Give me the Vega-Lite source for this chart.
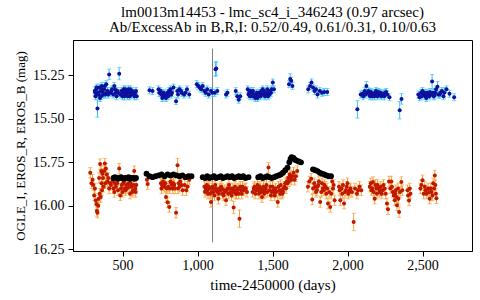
{
  "$schema": "https://vega.github.io/schema/vega-lite/v6.json",
  "width": 399,
  "height": 211,
  "autosize": {"type": "none"},
  "padding": {"left": 73, "top": 40, "right": 8, "bottom": 49},
  "background": "white",
  "title": {
    "text": ["lm0013m14453 - lmc_sc4_i_346243 (0.97 arcsec)", "Ab/ExcessAb in B,R,I: 0.52/0.49, 0.61/0.31, 0.10/0.63"],
    "font": "Liberation Serif",
    "fontSize": 15,
    "fontWeight": "normal",
    "color": "black",
    "lineHeight": 15,
    "offset": 5,
    "frame": "group",
    "anchor": "middle"
  },
  "config": {
    "font": "Liberation Serif",
    "view": {"stroke": "black", "strokeWidth": 1},
    "axis": {
      "labelFont": "Liberation Serif",
      "labelFontSize": 14,
      "labelColor": "black",
      "titleFont": "Liberation Serif",
      "titleFontSize": 13,
      "titleFontWeight": "normal",
      "titleColor": "black",
      "domainColor": "black",
      "tickColor": "black",
      "grid": false,
      "tickSize": 5
    }
  },
  "datasets": {
    "B": [
      {"day":315,"mag":15.34,"err":0.025},{"day":318,"mag":15.35,"err":0.02},{"day":320,"mag":15.37,"err":0.02},{"day":325,"mag":15.33,"err":0.02},{"day":328,"mag":15.32,"err":0.02},{"day":330,"mag":15.36,"err":0.02},{"day":333,"mag":15.44,"err":0.05},{"day":338,"mag":15.35,"err":0.02},{"day":342,"mag":15.36,"err":0.02},{"day":345,"mag":15.32,"err":0.02},{"day":350,"mag":15.38,"err":0.02},{"day":355,"mag":15.34,"err":0.02},{"day":358,"mag":15.37,"err":0.02},{"day":362,"mag":15.31,"err":0.02},{"day":366,"mag":15.33,"err":0.02},{"day":370,"mag":15.35,"err":0.02},{"day":374,"mag":15.36,"err":0.02},{"day":378,"mag":15.33,"err":0.02},{"day":382,"mag":15.31,"err":0.02},{"day":385,"mag":15.36,"err":0.02},{"day":392,"mag":15.3,"err":0.02},{"day":396,"mag":15.35,"err":0.02},{"day":400,"mag":15.34,"err":0.02},{"day":405,"mag":15.36,"err":0.02},{"day":411,"mag":15.244,"err":0.03},{"day":420,"mag":15.35,"err":0.02},{"day":425,"mag":15.34,"err":0.02},{"day":430,"mag":15.33,"err":0.02},{"day":438,"mag":15.36,"err":0.02},{"day":445,"mag":15.31,"err":0.02},{"day":450,"mag":15.33,"err":0.02},{"day":455,"mag":15.35,"err":0.02},{"day":460,"mag":15.37,"err":0.02},{"day":465,"mag":15.34,"err":0.02},{"day":470,"mag":15.35,"err":0.02},{"day":478,"mag":15.24,"err":0.035},{"day":485,"mag":15.36,"err":0.02},{"day":492,"mag":15.34,"err":0.02},{"day":500,"mag":15.37,"err":0.02},{"day":503,"mag":15.35,"err":0.02},{"day":508,"mag":15.33,"err":0.02},{"day":512,"mag":15.37,"err":0.02},{"day":515,"mag":15.35,"err":0.02},{"day":518,"mag":15.33,"err":0.02},{"day":522,"mag":15.36,"err":0.02},{"day":526,"mag":15.35,"err":0.02},{"day":530,"mag":15.34,"err":0.02},{"day":535,"mag":15.37,"err":0.02},{"day":540,"mag":15.33,"err":0.02},{"day":544,"mag":15.35,"err":0.02},{"day":548,"mag":15.37,"err":0.02},{"day":552,"mag":15.33,"err":0.02},{"day":555,"mag":15.35,"err":0.02},{"day":560,"mag":15.36,"err":0.02},{"day":565,"mag":15.34,"err":0.02},{"day":570,"mag":15.35,"err":0.02},{"day":575,"mag":15.36,"err":0.02},{"day":580,"mag":15.37,"err":0.02},{"day":585,"mag":15.35,"err":0.02},{"day":590,"mag":15.34,"err":0.02},{"day":595,"mag":15.37,"err":0.02},
      {"day":680,"mag":15.335,"err":0.02},{"day":700,"mag":15.34,"err":0.02},{"day":740,"mag":15.33,"err":0.02},{"day":745,"mag":15.35,"err":0.02},{"day":750,"mag":15.35,"err":0.02},{"day":755,"mag":15.34,"err":0.02},{"day":760,"mag":15.36,"err":0.02},{"day":765,"mag":15.38,"err":0.02},{"day":770,"mag":15.37,"err":0.02},{"day":775,"mag":15.35,"err":0.02},{"day":780,"mag":15.36,"err":0.02},{"day":785,"mag":15.37,"err":0.02},{"day":790,"mag":15.38,"err":0.02},{"day":795,"mag":15.36,"err":0.02},{"day":800,"mag":15.35,"err":0.02},{"day":805,"mag":15.37,"err":0.02},{"day":810,"mag":15.34,"err":0.02},{"day":815,"mag":15.35,"err":0.02},{"day":820,"mag":15.33,"err":0.02},{"day":825,"mag":15.36,"err":0.02},{"day":830,"mag":15.35,"err":0.02},{"day":840,"mag":15.32,"err":0.02},{"day":857,"mag":15.398,"err":0.02},{"day":865,"mag":15.34,"err":0.02},{"day":870,"mag":15.36,"err":0.02},{"day":880,"mag":15.33,"err":0.02},{"day":890,"mag":15.34,"err":0.02},{"day":895,"mag":15.35,"err":0.02},{"day":910,"mag":15.36,"err":0.02},{"day":920,"mag":15.35,"err":0.02},{"day":930,"mag":15.33,"err":0.02},{"day":945,"mag":15.36,"err":0.02},
      {"day":995,"mag":15.3,"err":0.02},{"day":1005,"mag":15.31,"err":0.02},{"day":1015,"mag":15.32,"err":0.02},{"day":1025,"mag":15.33,"err":0.02},{"day":1035,"mag":15.31,"err":0.02},{"day":1045,"mag":15.34,"err":0.02},{"day":1055,"mag":15.35,"err":0.02},{"day":1065,"mag":15.33,"err":0.02},{"day":1075,"mag":15.36,"err":0.02},{"day":1090,"mag":15.34,"err":0.02},{"day":1100,"mag":15.35,"err":0.02},{"day":1115,"mag":15.35,"err":0.02},{"day":1120,"mag":15.215,"err":0.04},{"day":1125,"mag":15.21,"err":0.04},{"day":1132,"mag":15.34,"err":0.02},
      {"day":1190,"mag":15.36,"err":0.02},{"day":1200,"mag":15.35,"err":0.02},{"day":1255,"mag":15.34,"err":0.02},{"day":1265,"mag":15.37,"err":0.02},{"day":1275,"mag":15.39,"err":0.02},{"day":1285,"mag":15.37,"err":0.02},
      {"day":1335,"mag":15.33,"err":0.02},{"day":1340,"mag":15.36,"err":0.02},{"day":1345,"mag":15.35,"err":0.02},{"day":1350,"mag":15.37,"err":0.02},{"day":1355,"mag":15.34,"err":0.02},{"day":1360,"mag":15.35,"err":0.02},{"day":1365,"mag":15.37,"err":0.02},{"day":1370,"mag":15.34,"err":0.02},{"day":1375,"mag":15.36,"err":0.02},{"day":1380,"mag":15.37,"err":0.02},{"day":1385,"mag":15.38,"err":0.02},{"day":1390,"mag":15.36,"err":0.02},{"day":1395,"mag":15.35,"err":0.02},{"day":1400,"mag":15.38,"err":0.02},{"day":1405,"mag":15.37,"err":0.02},{"day":1410,"mag":15.35,"err":0.02},{"day":1415,"mag":15.36,"err":0.02},{"day":1420,"mag":15.37,"err":0.02},{"day":1425,"mag":15.34,"err":0.02},{"day":1430,"mag":15.36,"err":0.02},{"day":1435,"mag":15.33,"err":0.02},{"day":1440,"mag":15.34,"err":0.02},{"day":1445,"mag":15.36,"err":0.02},{"day":1450,"mag":15.37,"err":0.02},{"day":1455,"mag":15.35,"err":0.02},{"day":1460,"mag":15.36,"err":0.02},{"day":1465,"mag":15.33,"err":0.02},{"day":1470,"mag":15.37,"err":0.02},{"day":1475,"mag":15.35,"err":0.02},{"day":1480,"mag":15.36,"err":0.02},{"day":1485,"mag":15.34,"err":0.02},{"day":1490,"mag":15.35,"err":0.02},{"day":1495,"mag":15.33,"err":0.02},{"day":1502,"mag":15.29,"err":0.02},{"day":1510,"mag":15.33,"err":0.02},
      {"day":1610,"mag":15.3,"err":0.02},{"day":1618,"mag":15.27,"err":0.03},{"day":1625,"mag":15.28,"err":0.02},{"day":1633,"mag":15.31,"err":0.02},
      {"day":1738,"mag":15.33,"err":0.02},{"day":1750,"mag":15.31,"err":0.02},{"day":1760,"mag":15.29,"err":0.02},{"day":1770,"mag":15.32,"err":0.02},{"day":1780,"mag":15.34,"err":0.02},{"day":1790,"mag":15.33,"err":0.02},{"day":1800,"mag":15.36,"err":0.02},{"day":1815,"mag":15.34,"err":0.02},{"day":1830,"mag":15.35,"err":0.02},{"day":1845,"mag":15.345,"err":0.02},{"day":1865,"mag":15.345,"err":0.02},
      {"day":2066,"mag":15.445,"err":0.05},{"day":2088,"mag":15.36,"err":0.02},{"day":2100,"mag":15.355,"err":0.02},{"day":2105,"mag":15.37,"err":0.02},{"day":2115,"mag":15.34,"err":0.02},{"day":2120,"mag":15.36,"err":0.02},{"day":2126,"mag":15.31,"err":0.025},{"day":2135,"mag":15.35,"err":0.02},{"day":2140,"mag":15.34,"err":0.02},{"day":2145,"mag":15.36,"err":0.02},{"day":2150,"mag":15.37,"err":0.02},{"day":2155,"mag":15.345,"err":0.02},{"day":2160,"mag":15.35,"err":0.02},{"day":2165,"mag":15.37,"err":0.02},{"day":2170,"mag":15.36,"err":0.02},{"day":2175,"mag":15.355,"err":0.02},{"day":2180,"mag":15.37,"err":0.02},{"day":2185,"mag":15.35,"err":0.02},{"day":2190,"mag":15.34,"err":0.02},{"day":2195,"mag":15.36,"err":0.02},{"day":2200,"mag":15.37,"err":0.02},{"day":2205,"mag":15.345,"err":0.02},{"day":2210,"mag":15.35,"err":0.02},{"day":2215,"mag":15.36,"err":0.02},{"day":2220,"mag":15.35,"err":0.02},{"day":2225,"mag":15.37,"err":0.02},{"day":2230,"mag":15.36,"err":0.02},{"day":2235,"mag":15.355,"err":0.02},{"day":2245,"mag":15.37,"err":0.02},{"day":2250,"mag":15.35,"err":0.02},{"day":2258,"mag":15.345,"err":0.02},{"day":2265,"mag":15.36,"err":0.02},{"day":2280,"mag":15.375,"err":0.02},
      {"day":2348,"mag":15.45,"err":0.05},{"day":2360,"mag":15.385,"err":0.03},
      {"day":2472,"mag":15.36,"err":0.02},{"day":2480,"mag":15.375,"err":0.02},{"day":2490,"mag":15.35,"err":0.02},{"day":2495,"mag":15.37,"err":0.02},{"day":2500,"mag":15.34,"err":0.02},{"day":2505,"mag":15.355,"err":0.02},{"day":2510,"mag":15.36,"err":0.02},{"day":2515,"mag":15.35,"err":0.02},{"day":2520,"mag":15.37,"err":0.02},{"day":2525,"mag":15.38,"err":0.02},{"day":2530,"mag":15.35,"err":0.02},{"day":2535,"mag":15.36,"err":0.02},{"day":2540,"mag":15.36,"err":0.02},{"day":2545,"mag":15.37,"err":0.02},{"day":2550,"mag":15.345,"err":0.02},{"day":2555,"mag":15.36,"err":0.02},{"day":2564,"mag":15.285,"err":0.04},{"day":2570,"mag":15.35,"err":0.02},{"day":2575,"mag":15.37,"err":0.02},{"day":2580,"mag":15.365,"err":0.02},{"day":2585,"mag":15.35,"err":0.02},{"day":2590,"mag":15.33,"err":0.02},{"day":2600,"mag":15.315,"err":0.03},{"day":2605,"mag":15.36,"err":0.02},{"day":2615,"mag":15.36,"err":0.02},{"day":2620,"mag":15.35,"err":0.02},{"day":2630,"mag":15.34,"err":0.02},{"day":2640,"mag":15.37,"err":0.02},{"day":2645,"mag":15.35,"err":0.03},{"day":2660,"mag":15.33,"err":0.02},{"day":2680,"mag":15.355,"err":0.02},{"day":2711,"mag":15.375,"err":0.02}
    ],
    "R": [
      {"day":285,"mag":15.81,"err":0.03},{"day":293,"mag":15.87,"err":0.03},{"day":300,"mag":15.85,"err":0.03},{"day":305,"mag":15.88,"err":0.03},{"day":311,"mag":15.94,"err":0.03},{"day":316,"mag":15.9,"err":0.03},{"day":322,"mag":15.97,"err":0.03},{"day":326,"mag":15.99,"err":0.03},{"day":329,"mag":16.03,"err":0.03},{"day":333,"mag":16.04,"err":0.03},{"day":338,"mag":16.0,"err":0.03},{"day":341,"mag":15.96,"err":0.03},{"day":344,"mag":15.84,"err":0.03},{"day":348,"mag":15.93,"err":0.03},{"day":351,"mag":15.76,"err":0.03},{"day":355,"mag":15.95,"err":0.03},{"day":358,"mag":15.8,"err":0.03},{"day":360,"mag":15.87,"err":0.03},{"day":363,"mag":15.91,"err":0.03},{"day":366,"mag":15.815,"err":0.03},{"day":370,"mag":15.84,"err":0.03},{"day":373,"mag":15.89,"err":0.03},{"day":378,"mag":15.8,"err":0.03},{"day":382,"mag":15.757,"err":0.03},{"day":386,"mag":15.87,"err":0.03},{"day":389,"mag":15.786,"err":0.03},{"day":395,"mag":15.82,"err":0.03},{"day":400,"mag":15.86,"err":0.03},{"day":405,"mag":15.84,"err":0.03},{"day":411,"mag":15.9,"err":0.03},{"day":417,"mag":15.87,"err":0.03},{"day":423,"mag":15.88,"err":0.03},{"day":435,"mag":15.86,"err":0.03},{"day":440,"mag":15.9,"err":0.03},{"day":445,"mag":15.92,"err":0.03},{"day":450,"mag":15.87,"err":0.03},{"day":455,"mag":15.89,"err":0.03},{"day":465,"mag":15.87,"err":0.03},{"day":470,"mag":15.91,"err":0.03},{"day":478,"mag":15.786,"err":0.03},{"day":485,"mag":15.94,"err":0.03},{"day":490,"mag":15.9,"err":0.03},{"day":495,"mag":15.88,"err":0.03},{"day":500,"mag":15.92,"err":0.03},{"day":505,"mag":15.87,"err":0.03},{"day":510,"mag":15.86,"err":0.03},{"day":515,"mag":15.9,"err":0.03},{"day":520,"mag":15.91,"err":0.03},{"day":525,"mag":15.88,"err":0.03},{"day":530,"mag":15.9,"err":0.03},{"day":540,"mag":15.87,"err":0.03},{"day":545,"mag":15.89,"err":0.03},{"day":550,"mag":15.93,"err":0.03},{"day":555,"mag":15.87,"err":0.03},{"day":560,"mag":15.89,"err":0.03},{"day":565,"mag":15.92,"err":0.03},{"day":570,"mag":15.91,"err":0.03},{"day":575,"mag":15.88,"err":0.03},{"day":578,"mag":15.8,"err":0.03},{"day":585,"mag":15.9,"err":0.03},{"day":588,"mag":15.92,"err":0.03},{"day":592,"mag":15.88,"err":0.03},
      {"day":663,"mag":15.85,"err":0.03},{"day":668,"mag":15.875,"err":0.03},{"day":756,"mag":15.87,"err":0.03},{"day":760,"mag":15.9,"err":0.03},{"day":763,"mag":15.88,"err":0.03},{"day":770,"mag":15.86,"err":0.03},{"day":775,"mag":15.88,"err":0.03},{"day":781,"mag":15.89,"err":0.03},{"day":785,"mag":15.87,"err":0.03},{"day":790,"mag":15.95,"err":0.03},{"day":795,"mag":15.9,"err":0.03},{"day":801,"mag":15.98,"err":0.03},{"day":805,"mag":15.89,"err":0.03},{"day":812,"mag":16.007,"err":0.03},{"day":815,"mag":15.9,"err":0.03},{"day":820,"mag":15.86,"err":0.03},{"day":825,"mag":15.87,"err":0.03},{"day":830,"mag":15.88,"err":0.03},{"day":835,"mag":15.9,"err":0.03},{"day":840,"mag":15.87,"err":0.03},{"day":845,"mag":15.88,"err":0.03},{"day":850,"mag":15.9,"err":0.03},{"day":857,"mag":16.04,"err":0.03},{"day":867,"mag":15.767,"err":0.04},{"day":870,"mag":15.9,"err":0.03},{"day":875,"mag":15.87,"err":0.03},{"day":880,"mag":15.89,"err":0.03},{"day":885,"mag":15.86,"err":0.03},{"day":895,"mag":15.88,"err":0.03},{"day":901,"mag":15.91,"err":0.03},{"day":915,"mag":15.88,"err":0.03},{"day":925,"mag":15.91,"err":0.03},{"day":934,"mag":15.89,"err":0.03},{"day":945,"mag":15.85,"err":0.03},
      {"day":1046,"mag":15.89,"err":0.03},{"day":1050,"mag":15.92,"err":0.03},{"day":1055,"mag":15.91,"err":0.03},{"day":1058,"mag":15.9,"err":0.03},{"day":1062,"mag":15.88,"err":0.03},{"day":1066,"mag":15.91,"err":0.03},{"day":1070,"mag":15.93,"err":0.03},{"day":1075,"mag":15.89,"err":0.03},{"day":1080,"mag":15.9,"err":0.03},{"day":1085,"mag":15.93,"err":0.03},{"day":1090,"mag":15.978,"err":0.03},{"day":1095,"mag":15.92,"err":0.03},{"day":1098,"mag":15.89,"err":0.03},{"day":1103,"mag":15.9,"err":0.03},{"day":1108,"mag":15.92,"err":0.03},{"day":1113,"mag":15.94,"err":0.03},{"day":1118,"mag":15.88,"err":0.03},{"day":1123,"mag":15.9,"err":0.03},{"day":1128,"mag":15.91,"err":0.03},{"day":1133,"mag":15.92,"err":0.03},{"day":1139,"mag":15.96,"err":0.03},{"day":1143,"mag":15.93,"err":0.03},{"day":1148,"mag":15.9,"err":0.03},{"day":1153,"mag":15.91,"err":0.03},{"day":1158,"mag":15.89,"err":0.03},{"day":1163,"mag":15.9,"err":0.03},{"day":1168,"mag":15.93,"err":0.03},{"day":1173,"mag":15.94,"err":0.03},{"day":1178,"mag":15.91,"err":0.03},{"day":1183,"mag":15.92,"err":0.03},{"day":1190,"mag":15.968,"err":0.03},{"day":1195,"mag":15.91,"err":0.03},{"day":1200,"mag":15.9,"err":0.03},{"day":1205,"mag":15.93,"err":0.03},{"day":1210,"mag":15.88,"err":0.03},{"day":1215,"mag":15.9,"err":0.03},{"day":1222,"mag":15.92,"err":0.03},{"day":1227,"mag":15.94,"err":0.03},{"day":1232,"mag":15.9,"err":0.03},{"day":1237,"mag":15.92,"err":0.03},{"day":1241,"mag":16.01,"err":0.035},{"day":1245,"mag":15.91,"err":0.03},{"day":1250,"mag":15.89,"err":0.03},{"day":1255,"mag":15.93,"err":0.03},{"day":1260,"mag":15.93,"err":0.03},{"day":1265,"mag":15.91,"err":0.03},{"day":1270,"mag":15.9,"err":0.03},{"day":1275,"mag":15.93,"err":0.03},{"day":1280,"mag":16.074,"err":0.05},{"day":1285,"mag":15.89,"err":0.03},{"day":1290,"mag":15.91,"err":0.03},{"day":1295,"mag":15.93,"err":0.03},{"day":1300,"mag":15.89,"err":0.03},{"day":1308,"mag":15.91,"err":0.03},{"day":1315,"mag":15.9,"err":0.03},{"day":1322,"mag":15.9,"err":0.03},{"day":1330,"mag":15.92,"err":0.03},
      {"day":1367,"mag":15.92,"err":0.03},{"day":1375,"mag":15.9,"err":0.03},{"day":1380,"mag":15.89,"err":0.03},{"day":1385,"mag":15.93,"err":0.03},{"day":1390,"mag":15.91,"err":0.03},{"day":1395,"mag":15.9,"err":0.03},{"day":1400,"mag":15.88,"err":0.03},{"day":1405,"mag":15.91,"err":0.03},{"day":1410,"mag":15.93,"err":0.03},{"day":1415,"mag":15.89,"err":0.03},{"day":1420,"mag":15.9,"err":0.03},{"day":1425,"mag":15.92,"err":0.03},{"day":1430,"mag":15.95,"err":0.03},{"day":1435,"mag":15.91,"err":0.03},{"day":1440,"mag":15.89,"err":0.03},{"day":1445,"mag":15.93,"err":0.03},{"day":1450,"mag":15.92,"err":0.03},{"day":1455,"mag":15.9,"err":0.03},{"day":1460,"mag":15.88,"err":0.03},{"day":1465,"mag":15.92,"err":0.03},{"day":1473,"mag":15.78,"err":0.03},{"day":1480,"mag":15.91,"err":0.03},{"day":1485,"mag":15.89,"err":0.03},{"day":1490,"mag":15.94,"err":0.03},{"day":1495,"mag":15.92,"err":0.03},{"day":1500,"mag":15.89,"err":0.03},{"day":1505,"mag":15.91,"err":0.03},{"day":1510,"mag":15.92,"err":0.03},{"day":1515,"mag":15.94,"err":0.03},{"day":1520,"mag":15.9,"err":0.03},{"day":1525,"mag":15.92,"err":0.03},{"day":1535,"mag":15.978,"err":0.03},{"day":1540,"mag":15.89,"err":0.03},{"day":1545,"mag":15.91,"err":0.03},{"day":1550,"mag":15.93,"err":0.03},{"day":1555,"mag":15.88,"err":0.03},{"day":1560,"mag":15.91,"err":0.03},{"day":1565,"mag":15.93,"err":0.03},{"day":1570,"mag":15.92,"err":0.03},{"day":1575,"mag":15.9,"err":0.03},{"day":1580,"mag":15.89,"err":0.03},{"day":1585,"mag":15.87,"err":0.03},{"day":1590,"mag":15.9,"err":0.03},{"day":1595,"mag":15.86,"err":0.03},{"day":1600,"mag":15.87,"err":0.03},{"day":1605,"mag":15.84,"err":0.03},{"day":1610,"mag":15.86,"err":0.03},{"day":1615,"mag":15.82,"err":0.03},{"day":1620,"mag":15.83,"err":0.03},{"day":1625,"mag":15.85,"err":0.03},{"day":1632,"mag":15.83,"err":0.03},{"day":1640,"mag":15.81,"err":0.03},{"day":1648,"mag":15.85,"err":0.03},{"day":1655,"mag":15.83,"err":0.03},{"day":1665,"mag":15.8,"err":0.03},
      {"day":1736,"mag":15.89,"err":0.03},{"day":1745,"mag":15.86,"err":0.03},{"day":1758,"mag":15.844,"err":0.03},{"day":1765,"mag":15.964,"err":0.03},{"day":1770,"mag":15.9,"err":0.03},{"day":1778,"mag":15.87,"err":0.03},{"day":1784,"mag":15.89,"err":0.03},{"day":1790,"mag":15.92,"err":0.03},{"day":1795,"mag":15.91,"err":0.03},{"day":1800,"mag":15.89,"err":0.03},{"day":1805,"mag":15.88,"err":0.03},{"day":1810,"mag":15.86,"err":0.03},{"day":1818,"mag":15.978,"err":0.03},{"day":1825,"mag":15.92,"err":0.03},{"day":1830,"mag":15.87,"err":0.03},{"day":1836,"mag":15.9,"err":0.03},{"day":1842,"mag":15.91,"err":0.03},{"day":1846,"mag":15.88,"err":0.03},{"day":1852,"mag":15.89,"err":0.03},{"day":1858,"mag":15.93,"err":0.03},{"day":1864,"mag":15.9,"err":0.03},{"day":1870,"mag":15.987,"err":0.03},{"day":1878,"mag":15.92,"err":0.03},{"day":1885,"mag":16.007,"err":0.03},{"day":1892,"mag":15.93,"err":0.03},{"day":1898,"mag":15.86,"err":0.03},{"day":1903,"mag":15.9,"err":0.03},{"day":1908,"mag":15.88,"err":0.03},{"day":1914,"mag":15.968,"err":0.03},
      {"day":1943,"mag":15.89,"err":0.03},{"day":1948,"mag":15.91,"err":0.03},{"day":1952,"mag":15.968,"err":0.03},{"day":1960,"mag":15.9,"err":0.03},{"day":1965,"mag":15.93,"err":0.03},{"day":1970,"mag":15.88,"err":0.03},{"day":1977,"mag":15.987,"err":0.03},{"day":1983,"mag":15.92,"err":0.03},{"day":1990,"mag":15.91,"err":0.03},{"day":1995,"mag":15.89,"err":0.03},{"day":2000,"mag":15.87,"err":0.03},{"day":2005,"mag":15.93,"err":0.03},{"day":2010,"mag":15.92,"err":0.03},{"day":2015,"mag":15.91,"err":0.03},{"day":2020,"mag":15.9,"err":0.03},{"day":2030,"mag":15.92,"err":0.03},{"day":2041,"mag":16.093,"err":0.05},{"day":2050,"mag":15.9,"err":0.03},{"day":2063,"mag":15.93,"err":0.03},{"day":2070,"mag":15.91,"err":0.03},{"day":2080,"mag":15.89,"err":0.03},{"day":2092,"mag":15.91,"err":0.03},
      {"day":2148,"mag":15.89,"err":0.03},{"day":2155,"mag":15.87,"err":0.03},{"day":2160,"mag":15.91,"err":0.03},{"day":2165,"mag":15.9,"err":0.03},{"day":2170,"mag":15.863,"err":0.03},{"day":2175,"mag":15.92,"err":0.03},{"day":2181,"mag":15.959,"err":0.03},{"day":2186,"mag":15.88,"err":0.03},{"day":2192,"mag":15.9,"err":0.03},{"day":2196,"mag":15.93,"err":0.03},{"day":2200,"mag":15.88,"err":0.03},{"day":2206,"mag":15.9,"err":0.03},{"day":2212,"mag":15.92,"err":0.03},{"day":2217,"mag":15.91,"err":0.03},{"day":2222,"mag":15.89,"err":0.03},{"day":2228,"mag":15.93,"err":0.03},{"day":2235,"mag":15.91,"err":0.03},{"day":2240,"mag":15.88,"err":0.03},{"day":2248,"mag":15.9,"err":0.03},{"day":2255,"mag":15.93,"err":0.03},{"day":2263,"mag":15.987,"err":0.03},{"day":2270,"mag":16.02,"err":0.03},{"day":2277,"mag":15.86,"err":0.03},{"day":2285,"mag":15.9,"err":0.03},{"day":2292,"mag":15.86,"err":0.03},{"day":2296,"mag":15.89,"err":0.03},{"day":2302,"mag":15.92,"err":0.03},{"day":2308,"mag":15.94,"err":0.03},{"day":2315,"mag":15.968,"err":0.03},{"day":2318,"mag":15.93,"err":0.03},{"day":2322,"mag":15.91,"err":0.03},{"day":2326,"mag":15.95,"err":0.03},{"day":2330,"mag":15.997,"err":0.03},{"day":2337,"mag":15.9,"err":0.03},{"day":2340,"mag":15.96,"err":0.03},{"day":2344,"mag":16.036,"err":0.03},{"day":2350,"mag":15.92,"err":0.03},{"day":2359,"mag":15.863,"err":0.03},{"day":2365,"mag":15.91,"err":0.03},{"day":2400,"mag":15.91,"err":0.03},{"day":2404,"mag":15.94,"err":0.03},{"day":2410,"mag":15.97,"err":0.03},{"day":2415,"mag":15.9,"err":0.03},{"day":2420,"mag":15.93,"err":0.03},
      {"day":2486,"mag":15.9,"err":0.03},{"day":2492,"mag":15.88,"err":0.03},{"day":2500,"mag":15.853,"err":0.03},{"day":2508,"mag":15.93,"err":0.03},{"day":2515,"mag":15.89,"err":0.03},{"day":2520,"mag":15.91,"err":0.03},{"day":2528,"mag":15.93,"err":0.03},{"day":2537,"mag":15.9,"err":0.03},{"day":2543,"mag":15.92,"err":0.03},{"day":2548,"mag":15.959,"err":0.03},{"day":2555,"mag":15.9,"err":0.03},{"day":2560,"mag":15.92,"err":0.03},{"day":2566,"mag":15.94,"err":0.03},{"day":2571,"mag":15.87,"err":0.03},{"day":2577,"mag":15.9,"err":0.03},{"day":2582,"mag":15.825,"err":0.03},{"day":2586,"mag":15.88,"err":0.03},{"day":2589,"mag":15.93,"err":0.03},{"day":2593,"mag":15.957,"err":0.03}
    ],
    "I": [
      {"day":440,"mag":15.84},{"day":450,"mag":15.835},{"day":460,"mag":15.84},{"day":470,"mag":15.845},{"day":480,"mag":15.84},{"day":490,"mag":15.835},{"day":500,"mag":15.84},{"day":510,"mag":15.845},{"day":520,"mag":15.84},{"day":530,"mag":15.84},{"day":540,"mag":15.835},{"day":550,"mag":15.845},{"day":560,"mag":15.84},{"day":570,"mag":15.84},{"day":580,"mag":15.845},{"day":590,"mag":15.84},
      {"day":660,"mag":15.815},{"day":680,"mag":15.83},{"day":700,"mag":15.835},{"day":720,"mag":15.83},{"day":740,"mag":15.825},{"day":760,"mag":15.82},{"day":780,"mag":15.83},{"day":800,"mag":15.82},{"day":820,"mag":15.825},{"day":840,"mag":15.82},{"day":860,"mag":15.825},{"day":880,"mag":15.83},{"day":900,"mag":15.825},{"day":920,"mag":15.835},{"day":940,"mag":15.83},{"day":960,"mag":15.83},
      {"day":1035,"mag":15.835},{"day":1050,"mag":15.84},{"day":1065,"mag":15.83},{"day":1080,"mag":15.84},{"day":1095,"mag":15.835},{"day":1110,"mag":15.83},{"day":1125,"mag":15.84},{"day":1140,"mag":15.835},{"day":1155,"mag":15.83},{"day":1170,"mag":15.84},{"day":1185,"mag":15.835},{"day":1200,"mag":15.83},{"day":1215,"mag":15.835},{"day":1230,"mag":15.83},{"day":1245,"mag":15.84},{"day":1260,"mag":15.835},{"day":1275,"mag":15.83},{"day":1290,"mag":15.835},{"day":1305,"mag":15.83},{"day":1320,"mag":15.84},{"day":1340,"mag":15.835},
      {"day":1405,"mag":15.835},{"day":1420,"mag":15.83},{"day":1435,"mag":15.84},{"day":1450,"mag":15.835},{"day":1465,"mag":15.83},{"day":1480,"mag":15.835},{"day":1495,"mag":15.84},{"day":1510,"mag":15.835},{"day":1525,"mag":15.83},{"day":1540,"mag":15.825},{"day":1555,"mag":15.82},{"day":1570,"mag":15.81},{"day":1585,"mag":15.795},{"day":1600,"mag":15.78},{"day":1612,"mag":15.75},{"day":1620,"mag":15.73},{"day":1628,"mag":15.72},{"day":1640,"mag":15.725},{"day":1650,"mag":15.735},{"day":1660,"mag":15.74},{"day":1675,"mag":15.745},{"day":1690,"mag":15.75},
      {"day":1770,"mag":15.79},{"day":1785,"mag":15.795},{"day":1800,"mag":15.8},{"day":1815,"mag":15.81},{"day":1830,"mag":15.815},{"day":1845,"mag":15.82},{"day":1860,"mag":15.825},{"day":1875,"mag":15.83},{"day":1890,"mag":15.83}
    ],
    "marker": [{"day": 1100, "top": 15.095, "bottom": 16.21}]
  },
  "encoding": {
    "x": {
      "field": "day",
      "type": "quantitative",
      "scale": {"domain": [170, 2830], "nice": false, "zero": false},
      "axis": {"values": [500, 1000, 1500, 2000, 2500], "format": ",.0f", "labelPadding": 2, "titleFontSize": 15, "titlePadding": 5},
      "title": "time-2450000 (days)"
    },
    "y": {
      "field": "mag",
      "type": "quantitative",
      "scale": {"domain": [15.046, 16.26], "reverse": true, "nice": false, "zero": false},
      "axis": {"values": [15.25, 15.5, 15.75, 16.0, 16.25], "format": ".2f", "labelPadding": 4, "titlePadding": 5},
      "title": "OGLE_I, EROS_R, EROS_B (mag)"
    }
  },
  "layer": [
    {
      "data": {"name": "marker"},
      "mark": {"type": "rule", "color": "#808080", "strokeWidth": 1},
      "encoding": {
        "y": {"field": "top", "type": "quantitative", "title": "OGLE_I, EROS_R, EROS_B (mag)"},
        "y2": {"field": "bottom"}
      }
    },
    {
      "data": {"name": "B"},
      "mark": {"type": "errorbar", "color": "#38c4f2", "ticks": {"size": 4}, "thickness": 1},
      "encoding": {"yError": {"field": "err"}}
    },
    {
      "data": {"name": "B"},
      "mark": {"type": "circle", "color": "#10109e", "size": 16, "opacity": 1}
    },
    {
      "data": {"name": "R"},
      "mark": {"type": "errorbar", "color": "#f5a43a", "ticks": {"size": 4}, "thickness": 1},
      "encoding": {"yError": {"field": "err"}}
    },
    {
      "data": {"name": "R"},
      "mark": {"type": "circle", "color": "#c01800", "size": 16, "opacity": 1}
    },
    {
      "data": {"name": "I"},
      "mark": {"type": "circle", "color": "black", "size": 34, "opacity": 1}
    }
  ]
}
